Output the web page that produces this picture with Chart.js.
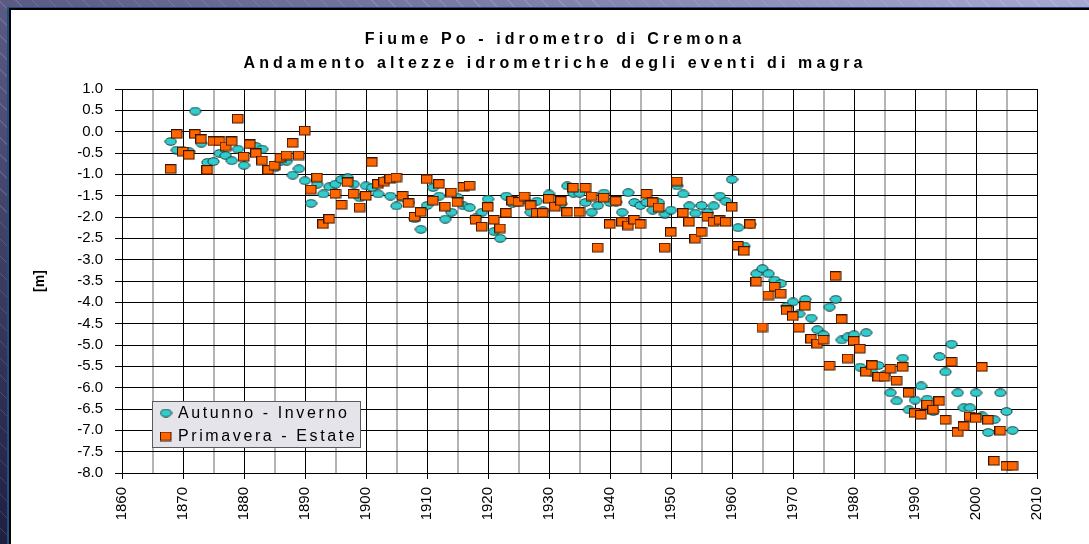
<!DOCTYPE html>
<html>
<head>
<meta charset="utf-8">
<script src="https://cdn.jsdelivr.net/npm/chart.js@4.4.0/dist/chart.umd.min.js"></script>
<style>
html,body{margin:0;padding:0;width:1089px;height:544px;overflow:hidden;}
body{
  position:relative;
  background:
    repeating-linear-gradient(45deg, rgba(255,255,255,0) 0px, rgba(255,255,255,0) 11px, rgba(255,255,255,0.13) 11px, rgba(255,255,255,0.13) 12px),
    linear-gradient(to top right, #1f1f42 0%, #5a5a84 50%, #a8a8d2 100%);
}
#panel{position:absolute;left:9px;top:8px;width:1100px;height:560px;background:#fff;
  border-left:2px solid #000;border-top:2px solid #000;box-shadow:-2px -1px 0 0 #1f4f80;}
#c{position:absolute;left:0;top:0;}
</style>
</head>
<body>
<div id="panel"></div>
<canvas id="c" width="1089" height="544"></canvas>
<script>
// ---- data ----
const titleLines = ["Fiume Po - idrometro di Cremona", "Andamento altezze idrometriche degli eventi di magra"];
const yAxisTitle = "[m]";
const seriesNames = ["Autunno - Inverno", "Primavera - Estate"];

const years = [];
for (let y = 1868; y <= 2006; y++) years.push(y);

const autunnoInverno = [
  -0.23, -0.43,
  -0.45, -0.47, 0.48, -0.27, -0.72, -0.70, -0.51, -0.56, -0.68, -0.41,
  -0.79, -0.29, -0.35, -0.41, -0.88, -0.85, -0.69, -0.69, -1.02, -0.87,
  -1.15, -1.68, -1.23, -1.46, -1.29, -1.23, -1.12, -1.08, -1.23, -1.55,
  -1.27, -1.31, -1.46, -1.15, -1.51, -1.74, -1.55, -1.66, -2.04, -2.29,
  -1.73, -1.31, -1.51, -2.05, -1.89, -1.54, -1.74, -1.78, -2.02, -1.89,
  -1.58, -2.34, -2.50, -1.51, -1.68, -1.66, -1.60, -1.89, -1.63, -1.85,
  -1.46, -1.74, -1.69, -1.27, -1.44, -1.44, -1.66, -1.89, -1.73, -1.44,
  -1.66, -1.65, -1.89, -1.43, -1.66, -1.73, -1.66, -1.84, -1.66, -1.93,
  -1.84, -1.27, -1.46, -1.74, -1.91, -1.73, -1.89, -1.74, -1.51, -1.63,
  -1.12, -2.25, -2.68, -2.17, -3.33, -3.21, -3.33, -3.48, -3.56, -4.09,
  -3.99, -4.27, -3.93, -4.37, -4.64, -4.76, -4.11, -3.93, -4.88, -4.81,
  -4.76, -5.52, -4.71, -5.65, -5.48, -5.70, -6.12, -6.31, -5.31, -6.52,
  -6.29, -5.96, -6.27, -6.56, -5.27, -5.63, -4.98, -6.12, -6.47, -6.47,
  -6.12, -6.66, -7.05, -6.75, -6.12, -6.56, -7.00
];

const primaveraEstate = [
  -0.88, -0.06,
  -0.47, -0.55, -0.06, -0.18, -0.90, -0.23, -0.23, -0.35, -0.23, 0.30,
  -0.59, -0.30, -0.51, -0.68, -0.90, -0.80, -0.62, -0.56, -0.27, -0.56,
  0.02, -1.36, -1.08, -2.17, -2.05, -1.46, -1.72, -1.19, -1.46, -1.78,
  -1.51, -0.72, -1.23, -1.17, -1.11, -1.08, -1.51, -1.68, -2.00, -1.89,
  -1.12, -1.62, -1.23, -1.76, -1.43, -1.66, -1.30, -1.27, -2.07, -2.23,
  -1.77, -2.07, -2.27, -1.91, -1.62, -1.65, -1.52, -1.73, -1.91, -1.91,
  -1.58, -1.76, -1.63, -1.89, -1.32, -1.89, -1.32, -1.52, -2.72, -1.55,
  -2.17, -1.63, -2.12, -2.20, -2.07, -2.17, -1.46, -1.66, -1.78, -2.72,
  -2.36, -1.17, -1.91, -2.12, -2.51, -2.36, -2.00, -2.12, -2.08, -2.12,
  -1.77, -2.68, -2.80, -2.17, -3.52, -4.59, -3.84, -3.64, -3.80, -4.19,
  -4.33, -4.60, -4.09, -4.86, -4.97, -4.88, -5.49, -3.39, -4.40, -5.32,
  -4.91, -5.09, -5.63, -5.48, -5.75, -5.75, -5.56, -5.84, -5.52, -6.12,
  -6.60, -6.64, -6.40, -6.52, -6.32, -6.76, -5.40, -7.05, -6.91, -6.68,
  -6.72, -5.52, -6.76, -7.72, -7.01, -7.84, -7.84
];

const xTickYears = [1860, 1870, 1880, 1890, 1900, 1910, 1920, 1930, 1940, 1950, 1960, 1970, 1980, 1990, 2000, 2010];
const yMin = -8.0, yMax = 1.0, yStep = 0.5;

// ---- styling ----
const FONT = '"Liberation Sans", Arial, Helvetica, sans-serif';

function ellipseMarker() {
  const c = document.createElement('canvas');
  c.width = 13; c.height = 9;
  const g = c.getContext('2d');
  g.beginPath();
  g.ellipse(6.5, 4.5, 5.6, 3.8, 0, 0, Math.PI * 2);
  g.fillStyle = '#33cccc';
  g.fill();
  g.lineWidth = 1;
  g.strokeStyle = '#143c3c';
  g.stroke();
  return c;
}
function squareMarker() {
  const c = document.createElement('canvas');
  c.width = 12; c.height = 10;
  const g = c.getContext('2d');
  g.fillStyle = '#ff6600';
  g.fillRect(1, 1, 10, 8);
  g.lineWidth = 1;
  g.strokeStyle = '#3a1400';
  g.strokeRect(0.5, 0.5, 10.5, 8.5);
  return c;
}
const circleImg = ellipseMarker();
const squareImg = squareMarker();

function toPoints(vals) {
  const out = [];
  vals.forEach((v, i) => { if (v !== null) out.push({ x: years[i], y: v }); });
  return out;
}

const titlePlugin = {
  id: 'customTitle',
  afterDraw(chart) {
    const ctx = chart.ctx;
    ctx.save();
    ctx.fillStyle = '#000';
    ctx.font = 'bold 16px ' + FONT;
    ctx.textAlign = 'center';
    ctx.textBaseline = 'middle';
    const sp = 4.1;
    ctx.letterSpacing = sp + 'px';
    ctx.fillText(titleLines[0], 553 + sp / 2, 40);
    ctx.fillText(titleLines[1], 553 + sp / 2, 64);
    ctx.restore();
  }
};

const legendPlugin = {
  id: 'customLegend',
  afterDraw(chart) {
    const ctx = chart.ctx;
    const x0 = 152, y0 = 401, w = 208, h = 46;
    ctx.save();
    ctx.fillStyle = '#e4e4ea';
    ctx.fillRect(x0, y0, w, h);
    ctx.strokeStyle = '#5a5a5a';
    ctx.lineWidth = 1;
    ctx.strokeRect(x0 + 0.5, y0 + 0.5, w, h);
    ctx.font = '16px ' + FONT;
    ctx.letterSpacing = '2.6px';
    ctx.fillStyle = '#000';
    ctx.textAlign = 'left';
    ctx.textBaseline = 'middle';
    const rows = [413, 436.5];
    chart.data.datasets.forEach((ds, i) => {
      const img = ds.pointStyle;
      ctx.drawImage(img, 166 - img.width / 2, rows[i] - img.height / 2);
      ctx.fillText(ds.label, 178, rows[i] + 0.5);
    });
    ctx.restore();
  }
};

new Chart(document.getElementById('c'), {
  type: 'scatter',
  data: {
    datasets: [
      { label: seriesNames[0], data: toPoints(autunnoInverno), pointStyle: circleImg, pointRadius: 5, order: 1 },
      { label: seriesNames[1], data: toPoints(primaveraEstate), pointStyle: squareImg, pointRadius: 5, order: 0 }
    ]
  },
  options: {
    responsive: false,
    animation: false,
    devicePixelRatio: 1,
    layout: { padding: { left: 10, right: 52, top: 89, bottom: 0 } },
    plugins: {
      legend: { display: false },
      title: { display: false },
      tooltip: { enabled: false }
    },
    scales: {
      x: {
        type: 'linear',
        min: 1860, max: 2010,
        afterFit(scale) { scale.height = 71; },
        afterBuildTicks(scale) {
          const t = [];
          for (let v = 1860; v <= 2010; v += 5) t.push({ value: v });
          scale.ticks = t;
        },
        ticks: {
          autoSkip: false,
          maxRotation: 90, minRotation: 90,
          padding: 8,
          color: '#000',
          font: { family: FONT, size: 15 },
          callback: (v) => xTickYears.includes(v) ? String(v) : ''
        },
        grid: {
          color: (c) => (c.tick && c.tick.value % 10 === 0) ? '#000' : '#b4b4b4',
          lineWidth: (c) => (c.tick && c.tick.value % 10 === 0) ? 1 : 2,
          tickColor: (c) => (c.tick && c.tick.value % 10 === 0) ? '#000' : 'rgba(0,0,0,0)',
          tickLength: 6,
          tickWidth: 1
        },
        border: { display: true, color: '#000', width: 1 }
      },
      y: {
        min: yMin, max: yMax,
        afterFit(scale) { scale.width = 112; },
        ticks: {
          stepSize: yStep,
          padding: 12,
          color: '#000',
          font: { family: FONT, size: 15 },
          callback: (v) => Number(v).toFixed(1)
        },
        grid: { color: '#000', lineWidth: 1, tickLength: 7 },
        border: { display: true, color: '#000', width: 1 },
        title: {
          display: true,
          text: yAxisTitle,
          color: '#000',
          font: { family: FONT, size: 14, weight: 'bold' },
          padding: { top: 22, bottom: 0 }
        }
      }
    }
  },
  plugins: [titlePlugin, legendPlugin]
});
</script>
</body>
</html>
